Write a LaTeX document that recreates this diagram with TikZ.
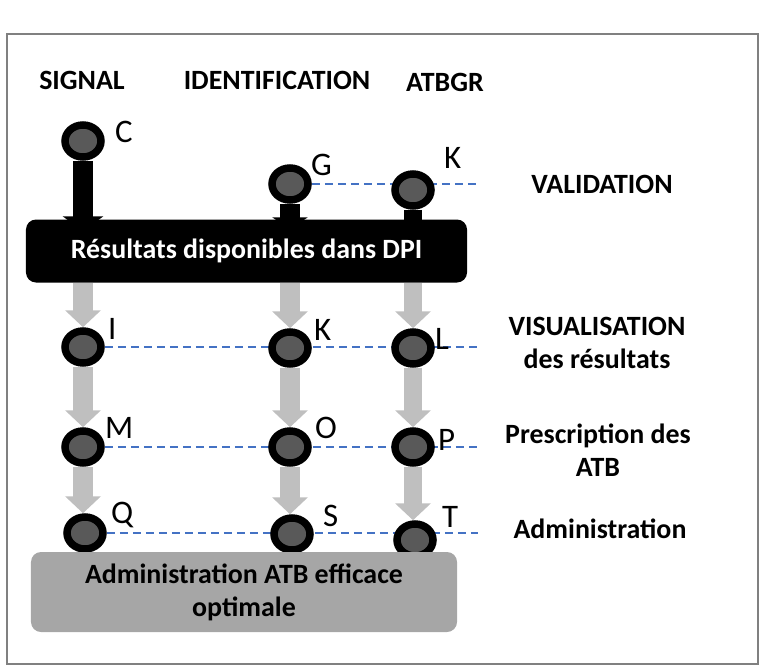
\documentclass[tikz,border=0pt]{standalone}
\usepackage{fontspec}
\setmainfont{Carlito}
\usetikzlibrary{shapes.geometric,arrows.meta,backgrounds,calc}
\definecolor{stationfill}{HTML}{595959}
\definecolor{flowgrey}{HTML}{BFBFBF}
\definecolor{linkblue}{HTML}{4472C4}
\definecolor{outcomegrey}{HTML}{A6A6A6}
\definecolor{framegrey}{HTML}{808080}

\begin{document}
\begin{tikzpicture}[x=1bp,y=-1bp,
  station/.style={ellipse, draw=black, line width=7.5bp, fill=stationfill,
    minimum width=36bp, minimum height=32bp, inner sep=0pt},
  tag/.style={anchor=west, inner sep=0pt, font=\fontsize{33}{33}\selectfont},
  head/.style={font=\fontsize{28}{33}\bfseries\selectfont, align=center, inner sep=0pt},
  feed/.style={draw=black, line width=20bp, -{Triangle[width=40bp,length=15bp]}},
  flow/.style={draw=flowgrey, line width=20bp, -{Triangle[width=35bp,length=17bp]}},
  level/.style={draw=linkblue, line width=1.5bp, dash pattern=on 8bp off 5bp},
]
\useasboundingbox (0,0) rectangle (760,670);

% outer frame
\draw[framegrey, line width=1.5bp] (7,34) rectangle (758,664);

% column headers and row captions
\node[head] (hsig) at (82,80) {SIGNAL};
\node[head] (hid) at (277,80) {IDENTIFICATION};
\node[head] (hatb) at (445,82) {ATBGR};
\node[head] (rval) at (602,184) {VALIDATION};
\node[head] (rvis) at (597,343) {VISUALISATION\\des résultats};
\node[head] (rpre) at (598,450) {Prescription des\\ATB};
\node[head] (radm) at (600,529) {Administration};

% stations
\node[station] (C) at (83,141) {};
\node[station] (G) at (290,184) {};
\node[station] (K1) at (413,190) {};
\node[station] (I) at (83,347) {};
\node[station] (K2) at (290,348) {};
\node[station] (L) at (413,348) {};
\node[station] (M) at (83,447) {};
\node[station] (O) at (290,447) {};
\node[station] (P) at (413,447) {};
\node[station] (Q) at (85,533) {};
\node[station] (S) at (292,534) {};
\node[station] (T) at (415,540) {};

% station letters
\node[tag] (lC) at (115,132) {C};
\node[tag] (lG) at (311,165) {G};
\node[tag] (lK1) at (444,158) {K};
\node[tag] (lI) at (108,329) {I};
\node[tag] (lK2) at (314,330) {K};
\node[tag] (lL) at (435,339) {L};
\node[tag] (lM) at (105,428) {M};
\node[tag] (lO) at (315,428) {O};
\node[tag] (lP) at (438,440) {P};
\node[tag] (lQ) at (111,515) {Q};
\node[tag] (lS) at (323,516) {S};
\node[tag] (lT) at (442,517) {T};

% results box
\node[fill=black, rounded corners=10bp, minimum width=441bp, minimum height=63bp,
  text=white, font=\fontsize{28}{33}\bfseries\selectfont, inner sep=0pt]
  (res) at (246.5,251) {Résultats disponibles dans DPI};

% outcome box
\node[fill=outcomegrey, rounded corners=10bp, minimum width=426bp, minimum height=80bp,
  font=\fontsize{28}{33}\bfseries\selectfont, align=center, inner sep=0pt]
  (out) at (244,592) {Administration ATB efficace\\optimale};

% free ends of the level lines
\coordinate (e1) at (478,184);
\coordinate (e2) at (478,347);
\coordinate (e3) at (478,447);
\coordinate (e4) at (478,533);

\begin{scope}[on background layer]
  % level lines
  \draw[level] (G.east) -- (e1);
  \draw[level] (I.east) -- (e2);
  \draw[level] (M.east) -- (e3);
  \draw[level] (Q.east) -- (e4);
  % feeds into the results box
  \draw[feed] (C.south) -- ($(C |- res.north)+(0,12)$);
  \draw[feed, -{Triangle[width=35bp,length=12bp]}] (G.south) -- ($(G |- res.north)+(0,10)$);
  \draw[black, line width=18bp] (K1.south) -- ($(K1 |- res.north)+(0,10)$);
  % flows out of the results box
  \draw[flow] (I |- res.south) -- (I.north);
  \draw[flow] (K2 |- res.south) -- (K2.north);
  \draw[flow, line width=18bp] (L |- res.south) -- (L.north);
  \draw[flow] (I.south) -- (M.north);
  \draw[flow] (K2.south) -- (O.north);
  \draw[flow, line width=18bp] (L.south) -- (P.north);
  \draw[flow] (M.south) -- (M |- Q.north);
  \draw[flow] (O.south) -- (O |- S.north);
  \draw[flow, line width=18bp] (P.south) -- (P |- T.north);
\end{scope}
\end{tikzpicture}
\end{document}
